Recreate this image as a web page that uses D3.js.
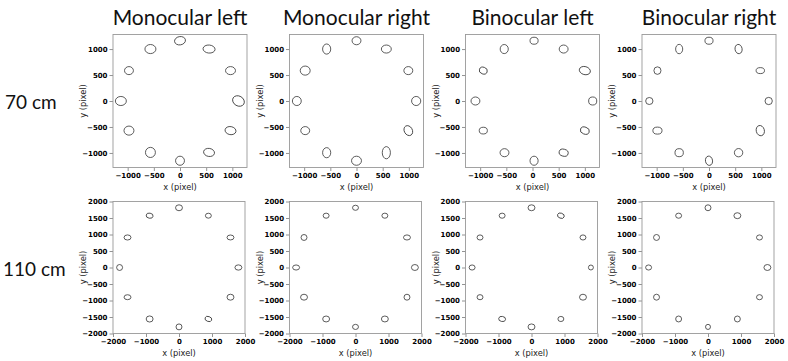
<!DOCTYPE html>
<html>
<head>
<meta charset="utf-8">
<script src="https://cdn.jsdelivr.net/npm/d3@7"></script>
<style>
  body { margin: 0; background: #fff; }
  svg { display: block; }
</style>
</head>
<body>
<svg id="chart" width="788" height="361"></svg>
<script>
// column titles and row labels
const columns = ['Monocular left', 'Monocular right', 'Binocular left', 'Binocular right'];
const rows = ['70 cm', '110 cm'];

// tick values per row
const ticks70x = [-1000, -500, 0, 500, 1000];
const ticks70y = [-1000, -500, 0, 500, 1000];
const ticks110x = [-2000, -1000, 0, 1000, 2000];
const ticks110y = [-2000, -1500, -1000, -500, 0, 500, 1000, 1500, 2000];

// ellipses: [cx, cy, width, height, angle (deg, ccw)]
const monoLeft70 = [
    [0, 1160, 210, 160, 10], [-565, 1000, 210, 175, 0], [555, 1000, 230, 155, -5],
    [-975, 585, 170, 155, 0], [965, 585, 190, 155, 0], [-1130, 0, 210, 175, 0],
    [1117, 0, 235, 190, -30], [-975, -570, 190, 175, 0], [965, -570, 210, 155, -10],
    [-565, -990, 190, 195, 0], [555, -990, 210, 155, -10], [0, -1150, 170, 175, 0]
];
const monoRight70 = [
    [0, 1160, 170, 155, 0], [-570, 1000, 155, 195, 0], [570, 1000, 190, 155, 0],
    [-980, 585, 190, 175, 0], [990, 585, 170, 155, 0], [-1140, 0, 170, 175, 0],
    [1140, 0, 175, 175, 0], [-980, -570, 170, 155, 0], [990, -570, 200, 155, -60],
    [-570, -995, 155, 195, 0], [570, -995, 155, 235, 0], [0, -1150, 190, 175, 0]
];
const binoLeft70 = [
    [30, 1160, 155, 135, 0], [-540, 1000, 155, 175, 0], [595, 1000, 170, 155, 0],
    [-940, 585, 155, 130, -20], [1000, 585, 215, 155, -15], [-1090, 0, 170, 155, 0],
    [1150, 0, 155, 155, 0], [-940, -570, 155, 130, 0], [1000, -570, 175, 135, -20],
    [-535, -995, 170, 155, 0], [595, -995, 175, 135, -15], [30, -1150, 155, 175, 0]
];
const binoRight70 = [
    [0, 1160, 155, 135, 0], [-570, 1000, 135, 180, 0], [565, 1000, 135, 180, 10],
    [-985, 585, 135, 145, 0], [980, 585, 160, 115, 0], [-1140, 0, 140, 135, 0],
    [1140, 0, 140, 140, 0], [-985, -570, 175, 135, 0], [980, -570, 155, 200, 15],
    [-570, -995, 160, 155, 0], [565, -995, 160, 160, 0], [0, -1150, 135, 180, 10]
];
const monoLeft110 = [
    [0, 1810, 210, 180, 0], [-890, 1570, 210, 155, -10], [890, 1570, 180, 150, 0],
    [-1560, 910, 210, 155, 0], [1560, 910, 210, 150, 0], [-1800, 0, 180, 180, 0],
    [1800, 0, 210, 160, 0], [-1560, -900, 210, 150, 0], [1560, -900, 210, 180, 0],
    [-890, -1560, 210, 185, 0], [890, -1560, 210, 150, -20], [0, -1800, 180, 180, 0]
];
const monoRight110 = [
    [0, 1810, 180, 155, 0], [-890, 1570, 180, 155, 0], [890, 1570, 180, 155, 0],
    [-1560, 910, 180, 180, 0], [1560, 910, 210, 155, 0], [-1800, 0, 210, 155, 0],
    [1800, 0, 210, 180, 0], [-1560, -900, 210, 180, 0], [1560, -900, 180, 180, 0],
    [-890, -1560, 210, 180, 0], [890, -1560, 210, 180, 0], [0, -1800, 180, 155, 0]
];
const binoLeft110 = [
    [0, 1810, 210, 180, 0], [-890, 1570, 180, 155, 0], [890, 1570, 210, 155, -20],
    [-1560, 910, 180, 155, 0], [1560, 910, 180, 155, 0], [-1800, 0, 180, 155, 0],
    [1800, 0, 150, 150, 0], [-1560, -900, 180, 155, 0], [1560, -900, 210, 180, 0],
    [-890, -1560, 210, 155, -10], [890, -1560, 180, 155, 0], [0, -1800, 210, 180, 0]
];
const binoRight110 = [
    [0, 1810, 180, 180, 0], [-890, 1570, 180, 155, 0], [890, 1570, 210, 180, 0],
    [-1560, 910, 180, 180, 0], [1560, 910, 180, 155, 0], [-1800, 0, 180, 155, 0],
    [1800, 0, 210, 180, 0], [-1560, -900, 180, 180, 0], [1560, -900, 180, 155, 0],
    [-890, -1560, 180, 180, 0], [890, -1560, 180, 180, 0], [0, -1800, 150, 155, 0]
];

const panels = [
    [monoLeft70, monoRight70, binoLeft70, binoRight70],
    [monoLeft110, monoRight110, binoLeft110, binoRight110]
];

const svg = d3.select('#chart');

// layout of the grid
const colLeft = [113, 289.5, 465.5, 642];
const rowLayout = [
    { top: 34.5, w: 134, h: 133, lim: 1280, tx: ticks70x, ty: ticks70y },
    { top: 201.5, w: 132, h: 132, lim: 2000, tx: ticks110x, ty: ticks110y }
];

const drawPanel = (g, data, r) => {
    const x = d3.scaleLinear().domain([-r.lim, r.lim]).range([0, r.w]);
    const y = d3.scaleLinear().domain([-r.lim, r.lim]).range([r.h, 0]);
    const fmt = d3.format('d');

    // axes
    const xAxis = g.append('g')
        .attr('transform', `translate(0,${r.h})`)
        .call(d3.axisBottom(x).tickValues(r.tx).tickFormat(fmt).tickSize(3.5).tickPadding(2));
    const yAxis = g.append('g')
        .call(d3.axisLeft(y).tickValues(r.ty).tickFormat(fmt).tickSize(3.5).tickPadding(2));

    [xAxis, yAxis].forEach((a) => {
        a.select('.domain').remove();
        a.selectAll('line').attr('stroke', '#777').attr('stroke-width', 0.8);
        a.selectAll('text')
            .attr('fill', '#000')
            .style('font-family', '"DejaVu Sans", sans-serif')
            .style('font-weight', 'bold')
            .style('font-size', '7px');
    });

    // frame
    g.append('rect')
        .attr('width', r.w)
        .attr('height', r.h)
        .attr('fill', 'none')
        .attr('stroke', '#999')
        .attr('stroke-width', 0.9);

    // ellipses
    g.selectAll('.ell')
        .data(data)
        .enter()
        .append('ellipse')
        .attr('transform', (d) => `translate(${x(d[0])},${y(d[1])}) rotate(${-d[4]})`)
        .attr('rx', (d) => (x(d[2]) - x(0)) / 2)
        .attr('ry', (d) => (y(0) - y(d[3])) / 2)
        .attr('fill', 'none')
        .attr('stroke', '#333')
        .attr('stroke-width', 0.8);

    // axis labels
    g.append('text')
        .attr('x', r.w / 2)
        .attr('y', r.h + 22)
        .attr('text-anchor', 'middle')
        .style('font-family', '"DejaVu Sans", sans-serif')
        .style('font-size', '8.3px')
        .attr('fill', '#222')
        .text('x (pixel)');
    g.append('text')
        .attr('transform', `translate(-27,${r.h / 2}) rotate(-90)`)
        .attr('text-anchor', 'middle')
        .style('font-family', '"DejaVu Sans", sans-serif')
        .style('font-size', '8.3px')
        .attr('fill', '#222')
        .text('y (pixel)');
};

rowLayout.forEach((r, ri) => {
    colLeft.forEach((left, ci) => {
        const g = svg.append('g').attr('transform', `translate(${left},${r.top})`);
        drawPanel(g, panels[ri][ci], r);
    });
});

// column titles
svg.selectAll('.title')
    .data(columns)
    .enter()
    .append('text')
    .attr('x', (d, i) => colLeft[i] + 67)
    .attr('y', 25)
    .attr('text-anchor', 'middle')
    .style('font-family', 'Lato, sans-serif')
    .style('font-size', '21px')
    .attr('fill', '#111')
    .text((d) => d);

// row labels
svg.selectAll('.rowlab')
    .data(rows)
    .enter()
    .append('text')
    .attr('x', (d, i) => (i === 0 ? 5 : 3))
    .attr('y', (d, i) => (i === 0 ? 109 : 276))
    .style('font-family', 'Lato, sans-serif')
    .style('font-size', '19px')
    .attr('fill', '#111')
    .text((d) => d);
</script>
</body>
</html>
